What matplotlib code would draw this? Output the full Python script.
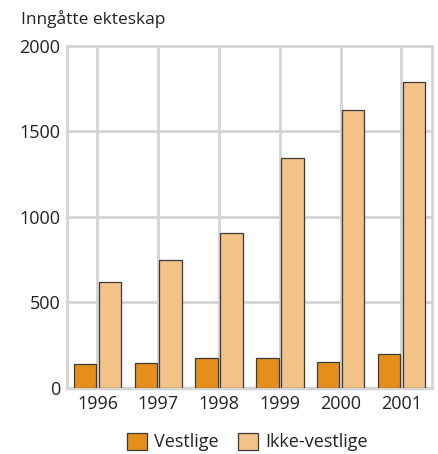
import matplotlib.pyplot as plt
import numpy as np

years = ['1996', '1997', '1998', '1999', '2000', '2001']
vestlige = [140, 144, 174, 175, 154, 197]
ikke_vestlige = [620, 748, 906, 1347, 1626, 1791]
yticks = [0, 500, 1000, 1500, 2000]

plt.rcParams['font.family'] = ['Open Sans', 'DejaVu Sans']

fig = plt.figure(figsize=(4.38, 4.54), dpi=100)
ax = fig.add_axes([0.153, 0.1454, 0.833, 0.7533])

grid_col = '#d4d4d4'
text_col = '#222222'
x = np.arange(len(years))
w = 0.37
b1 = ax.bar(x - 0.205, vestlige, w, color='#e58e1a', edgecolor='#3a3a3a', linewidth=0.9, zorder=3, label='Vestlige')
b2 = ax.bar(x + 0.205, ikke_vestlige, w, color='#f2c287', edgecolor='#3a3a3a', linewidth=0.9, zorder=3, label='Ikke-vestlige')

ax.set_xlim(-0.5, len(years) - 0.5)
ax.set_ylim(0, 2000)
ax.set_xticks(x)
ax.set_xticklabels(years)
ax.set_yticks(yticks)
ax.tick_params(length=0, labelsize=13, colors=text_col, pad=5)
ax.grid(True, color=grid_col, linewidth=2, zorder=0)
for s in ax.spines.values():
    s.set_color(grid_col)
    s.set_linewidth(2)
ax.spines['bottom'].set_linewidth(2.5)

fig.text(0.047, 0.958, 'Inngåtte ekteskap', fontsize=12.5, color=text_col, va='center', ha='left')

leg = fig.legend(handles=[b1, b2], loc='lower center', bbox_to_anchor=(0.565, -0.03), ncol=2, frameon=False,
                 fontsize=13, handlelength=1.1, handleheight=1.1, handletextpad=0.4, columnspacing=1.1)
for t in leg.get_texts():
    t.set_color(text_col)

fig.savefig('out.png', dpi=100)
